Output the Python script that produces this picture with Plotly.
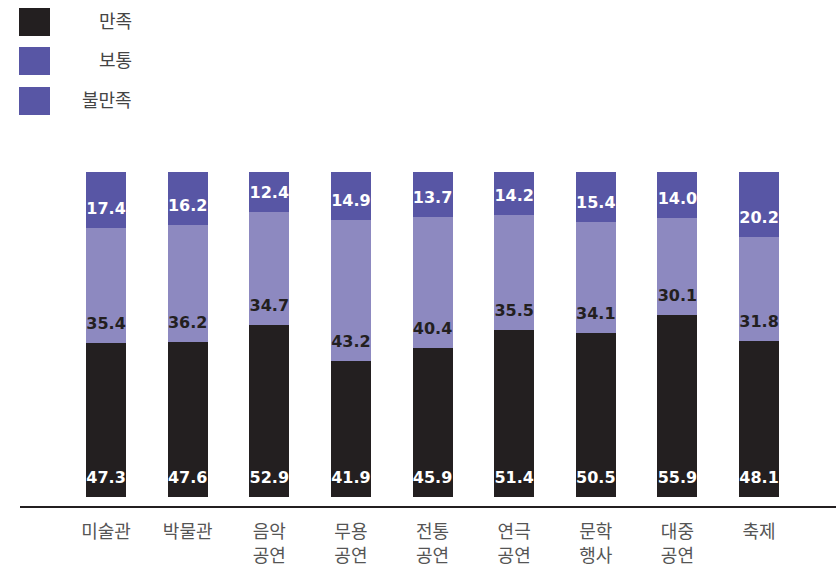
import plotly.graph_objects as go

categories_line1 = ["미술관", "박물관", "음악", "무용", "전통", "연극", "문학", "대중", "축제"]
categories_line2 = ["", "", "공연", "공연", "공연", "공연", "행사", "공연", ""]
satisfied = [47.3, 47.6, 52.9, 41.9, 45.9, 51.4, 50.5, 55.9, 48.1]
neutral = [35.4, 36.2, 34.7, 43.2, 40.4, 35.5, 34.1, 30.1, 31.8]
dissatisfied = [17.4, 16.2, 12.4, 14.9, 13.7, 14.2, 15.4, 14.0, 20.2]
series_names = ["만족", "보통", "불만족"]

bar_colors = ["#231f20", "#8d89c0", "#5856a5"]
legend_colors = ["#231f20", "#5856a5", "#5856a5"]
text_colors = ["#ffffff", "#231f20", "#ffffff"]

W, H = 836, 569
L, R, T, B = 20, 0, 172, 63
plot_w = W - L - R
plot_h = H - T - B
y_range = [-2.77, 100.0]
px_per_unit = plot_h / (y_range[1] - y_range[0])
label_offset = 18 / px_per_unit  # label centre sits 18px above segment base

x_idx = list(range(len(categories_line1)))
xr = [-1.054, 8.943]
fig = go.Figure()
series = [satisfied, neutral, dissatisfied]
base = [0.0] * len(x_idx)
for vals, name, col, tcol in zip(series, series_names, bar_colors, text_colors):
    fig.add_trace(go.Bar(
        x=x_idx, y=vals, name=name,
        marker=dict(color=col, line=dict(width=0)),
        width=0.49,
        showlegend=False,
        hoverinfo="skip",
    ))
    fig.add_trace(go.Scatter(
        x=x_idx, y=[b + label_offset for b in base],
        mode="text",
        text=[f"{v:.1f}" for v in vals],
        textposition="middle center",
        textfont=dict(family="DejaVu Sans", size=16, color=tcol, weight="bold"),
        showlegend=False, hoverinfo="skip", cliponaxis=False,
    ))
    base = [b + v for b, v in zip(base, vals)]

tickfont = dict(family="Noto Sans CJK KR", size=18, color="#555555")
fig.update_layout(
    barmode="stack",
    width=W, height=H,
    margin=dict(l=L, r=R, t=T, b=B, pad=0),
    paper_bgcolor="white",
    plot_bgcolor="white",
    showlegend=False,
    xaxis=dict(
        tickmode="array", tickvals=x_idx, ticktext=categories_line1,
        range=xr,
        showgrid=False, zeroline=False,
        showline=True, linecolor="#231f20", linewidth=2,
        ticks="", ticklabelstandoff=8,
        tickfont=tickfont,
    ),
    xaxis2=dict(
        overlaying="x", side="bottom", anchor="y",
        tickmode="array", tickvals=x_idx, ticktext=categories_line2,
        range=xr,
        showgrid=False, zeroline=False, showline=False,
        ticks="", ticklabelstandoff=37,
        tickfont=tickfont,
    ),
    yaxis=dict(
        range=y_range, visible=False, showgrid=False, zeroline=False,
    ),
)
# invisible trace to activate xaxis2
fig.add_trace(go.Scatter(x=[0], y=[0], xaxis="x2", yaxis="y", mode="markers",
                         marker=dict(opacity=0), showlegend=False, hoverinfo="skip"))

# legend (drawn manually: squares + right-aligned labels)
leg_top = [8, 47, 87]
for i, (name, col) in enumerate(zip(series_names, legend_colors)):
    y0 = leg_top[i]
    fig.add_shape(type="rect", xref="paper", yref="paper",
                  x0=(19 - L) / plot_w, x1=(50 - L) / plot_w,
                  y0=1 - (y0 + 28 - T) / plot_h, y1=1 - (y0 - T) / plot_h,
                  fillcolor=col, line=dict(width=0), layer="above")
    fig.add_annotation(xref="paper", yref="paper",
                       x=(134 - L) / plot_w, y=1 - (y0 + 12 - T) / plot_h,
                       text=name, showarrow=False, xanchor="right", yanchor="middle",
                       font=dict(family="Noto Sans CJK KR", size=18, color="#444444"))

fig.write_html("out.html", config={"displayModeBar": False},
               post_script="document.body.style.margin='0px';document.body.style.overflow='hidden';")
